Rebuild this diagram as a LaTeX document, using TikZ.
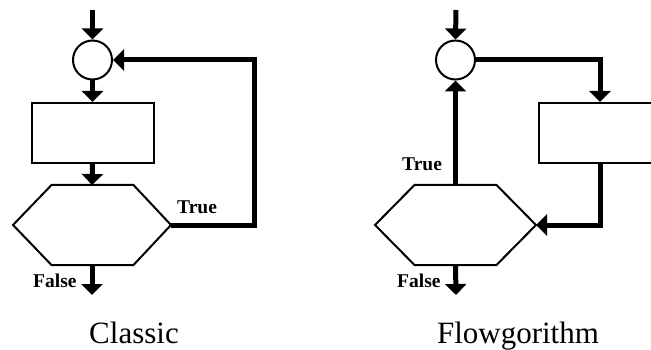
\documentclass[tikz,border=0pt]{standalone}
\usepackage{fontspec}
\setmainfont{Liberation Serif}
\usetikzlibrary{arrows.meta}

\tikzset{
  shapeline/.style={draw=black, line width=2pt},
  flow/.style={draw=black, line width=5pt,
    -{Triangle[width=21pt,length=11pt]}},
  joint/.style={shapeline, circle, inner sep=0pt, minimum size=39pt},
  boxnode/.style={shapeline, rectangle, inner sep=0pt, minimum width=122pt, minimum height=60pt},
  hexframe/.style={rectangle, inner sep=0pt, outer sep=0pt, minimum height=80pt},
  branch/.style={inner sep=0pt, anchor=base west, font=\bfseries\fontsize{19.5}{19.5}\selectfont},
  caption/.style={inner sep=0pt, anchor=base, font=\fontsize{31}{31}\selectfont}
}

\begin{document}
\begin{tikzpicture}[x=1pt, y=-1pt]
\useasboundingbox (0,0) rectangle (651,350);
\begin{scope}
\clip (0,0) rectangle (651,350);

% ---------- Classic ----------
\node[joint] (c1) at (92.5,60) {};
\node[boxnode] (r1) at (93,133) {};
\node[hexframe, minimum width=158pt] (h1) at (92,225) {};
\draw[shapeline, line join=miter] (h1.west) -- ([xshift=38.5pt]h1.north west) -- ([xshift=-37.5pt]h1.north east)
  -- (h1.east) -- ([xshift=-37.5pt]h1.south east) -- ([xshift=38.5pt]h1.south west) -- cycle;

\coordinate (in1) at (92.5,10);
\coordinate (out1) at (92,295);
\coordinate (loop1) at (254.5,225);

\draw[flow] (in1) -- (c1.north);
\draw[flow] (c1.south) -- (r1.north -| c1.south);
\draw[flow] (r1.south -| c1.south) -- (h1.north);
\draw[flow] (h1.south) -- (out1);
\draw[flow, line join=miter] (h1.east) -- (loop1) |- (c1.east);

\node[branch] (t1) at (177,214) {True};
\node[branch] (f1) at (33,287) {False};
\node[caption] (cap1) at (134,343) {Classic};

% ---------- Flowgorithm ----------
\node[joint] (c2) at (455.5,60) {};
\node[boxnode] (r2) at (600,133) {};
\node[hexframe, minimum width=161pt] (h2) at (455.5,225) {};
\draw[shapeline, line join=miter] (h2.west) -- ([xshift=39.5pt]h2.north west) -- ([xshift=-39.5pt]h2.north east)
  -- (h2.east) -- ([xshift=-39.5pt]h2.south east) -- ([xshift=39.5pt]h2.south west) -- cycle;

\coordinate (in2) at (456,10);
\coordinate (out2) at (456,295);

\draw[flow] (in2) -- (c2.north);
\draw[flow, line join=miter] (c2.east) -| (r2.north);
\draw[flow, line join=miter] (r2.south) |- (h2.east);
\draw[flow] (h2.north) -- (c2.south);
\draw[flow] (h2.south) -- (out2);

\node[branch] (t2) at (402,171) {True};
\node[branch] (f2) at (397,287) {False};
\node[caption] (cap2) at (518,343) {Flowgorithm};
\end{scope}
\end{tikzpicture}
\end{document}
